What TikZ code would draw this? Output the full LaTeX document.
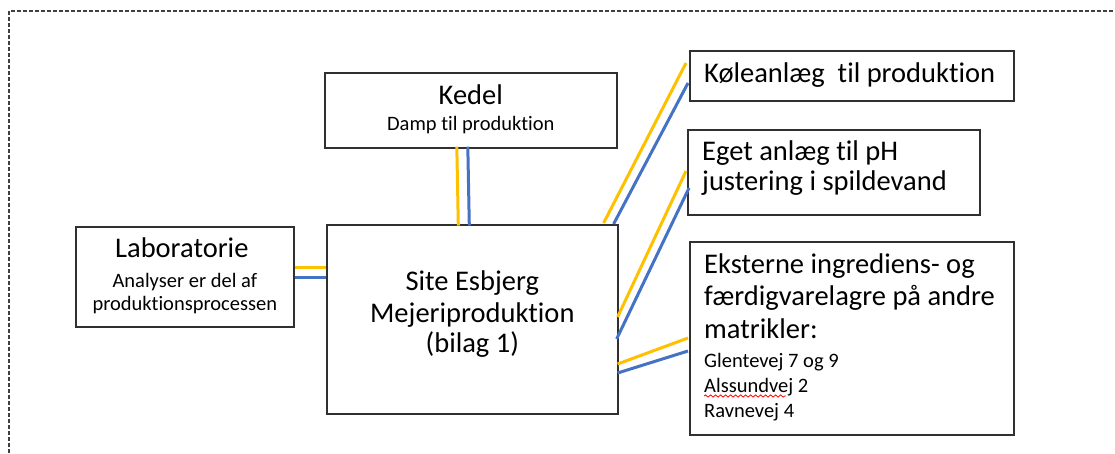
\documentclass[tikz,border=0pt]{standalone}
\usepackage{fontspec}
\setmainfont{Carlito}[Ligatures=NoCommon]
\usetikzlibrary{calc,decorations.pathmorphing}
\definecolor{linegold}{HTML}{FFC000}
\definecolor{lineblue}{HTML}{4472C4}
\definecolor{boxgray}{HTML}{303030}
\begin{document}
\begin{tikzpicture}[x=1pt,y=-1pt,
  box/.style={draw=boxgray,line width=1.6pt,inner sep=0pt,anchor=north west},
  bigt/.style={inner sep=0pt,font=\fontsize{28.5}{32}\selectfont},
  smallt/.style={inner sep=0pt,font=\fontsize{20.5}{24}\selectfont},
  gold/.style={draw=linegold,line width=3pt},
  blue/.style={draw=lineblue,line width=3pt},
  frame/.style={draw=black!75,line width=1.3pt,dash pattern=on 4pt off 2pt}
]
\useasboundingbox (0,0) rectangle (1115,453);
\draw[frame] (9,453) -- (9,11) -- (1115,11);

% boxes
\node[box,minimum width=292pt,minimum height=75pt] (kedel) at (324,72) {};
\node[box,minimum width=291pt,minimum height=189pt] (site) at (326,224) {};
\node[box,minimum width=218pt,minimum height=100pt] (lab) at (75,226) {};
\node[box,minimum width=324pt,minimum height=50pt] (koele) at (689,50) {};
\node[box,minimum width=292pt,minimum height=85pt] (eget) at (687,129) {};
\node[box,minimum width=324pt,minimum height=193pt] (eks) at (689,241) {};

% texts
\node[bigt,anchor=base] (kedel1) at ($(kedel.north)+(0,32)$) {Kedel};
\node[smallt,anchor=base] (kedel2) at ($(kedel.north)+(0,58)$) {Damp til produktion};

\node[bigt,anchor=base] (site1) at ($(site.north)+(0,66)$) {Site Esbjerg};
\node[bigt,anchor=base] (site2) at ($(site.north)+(0,98)$) {Mejeriproduktion};
\node[bigt,anchor=base] (site3) at ($(site.north)+(0,128)$) {(bilag 1)};

\node[bigt,anchor=base] (lab1) at ($(lab.north)+(-3,31)$) {Laboratorie};
\node[smallt,anchor=base] (lab2) at ($(lab.north)+(0,61)$) {Analyser er del af};
\node[smallt,anchor=base] (lab3) at ($(lab.north)+(0,84)$) {produktionsprocessen};

\node[bigt,anchor=base west] (koele1) at ($(koele.north west)+(15,32)$) {Køleanlæg\hspace{0.45em}til produktion};

\node[bigt,anchor=base west] (eget1) at ($(eget.north west)+(15,31)$) {Eget anlæg til pH};
\node[bigt,anchor=base west] (eget2) at ($(eget.north west)+(15,61)$) {justering i spildevand};

\node[bigt,anchor=base west] (eks1) at ($(eks.north west)+(15,32)$) {Eksterne ingrediens- og};
\node[bigt,anchor=base west] (eks2) at ($(eks.north west)+(15,64)$) {færdigvarelagre på andre};
\node[bigt,anchor=base west] (eks3) at ($(eks.north west)+(15,97)$) {matrikler:};
\node[smallt,anchor=base west] (eks4) at ($(eks.north west)+(15,126)$) {Glentevej 7 og 9};
\node[smallt,anchor=base west] (eks5) at ($(eks.north west)+(15,151)$) {Alssundvej 2};
\node[smallt,anchor=base west] (eks6) at ($(eks.north west)+(15,176)$) {Ravnevej 4};
\draw[red,line width=0.8pt,decorate,decoration={snake,amplitude=1.1pt,segment length=5pt}]
  ($(eks5.base west)+(0,4)$) -- ($(eks5.base west)+(82,4)$);

% Kedel - Site
\draw[gold] ($(kedel.south)+(-14,-2)$) -- ($(kedel.south -| site.north)+(-14,77)$);
\draw[blue] ($(kedel.south)+(-3,-2)$) -- ($(kedel.south -| site.north)+(-3,77)$);
% Lab - Site
\draw[gold] ($(lab.east)+(0,-9)$) -- ($(lab.east -| site.west)+(0,-9)$);
\draw[blue] ($(lab.east)+(0,1)$) -- ($(lab.east -| site.west)+(0,1)$);
% Site - Koeleanlaeg
\draw[gold] ($(site.north east)+(-15,-1)$) -- ($(koele.north west)+(-3,13)$);
\draw[blue] ($(site.north east)+(-5,0)$) -- ($(koele.north west)+(-1,33)$);
% Site - Eget
\draw[gold] ($(site.north east)+(-1,93)$) -- ($(eget.north west)+(-1,42)$);
\draw[blue] ($(site.north east)+(-2,115)$) -- ($(eget.north west)+(2,59)$);
% Site - Eksterne
\draw[gold] ($(site.north east)+(-1,140)$) -- ($(eks.north west)+(-1,97)$);
\draw[blue] ($(site.north east)+(-1,149)$) -- ($(eks.north west)+(-1,110)$);
\end{tikzpicture}
\end{document}
